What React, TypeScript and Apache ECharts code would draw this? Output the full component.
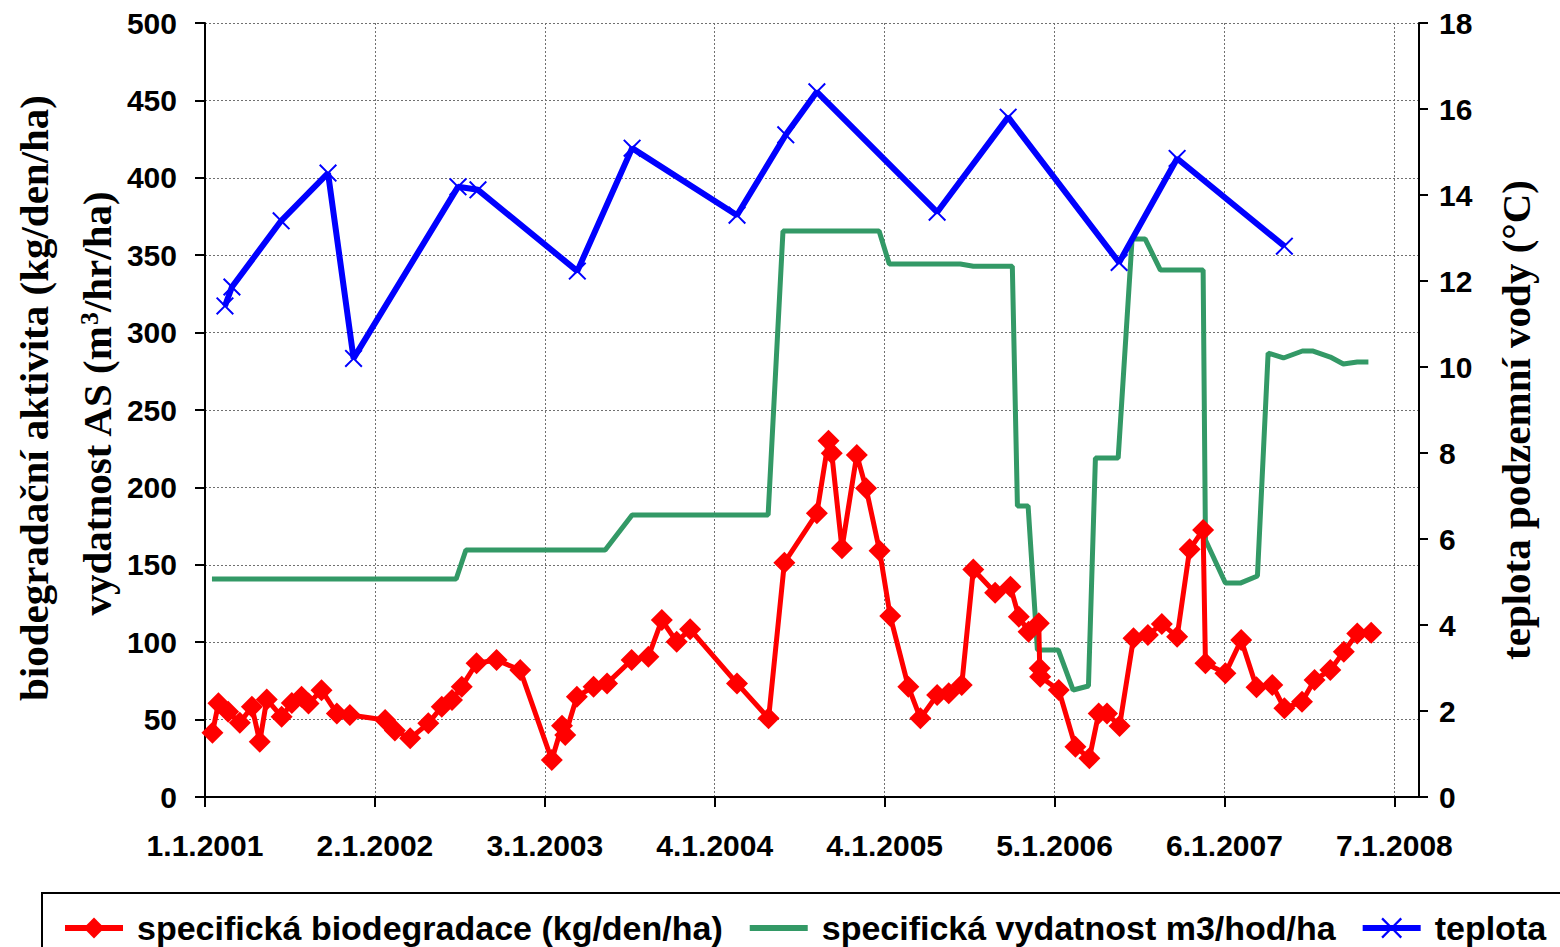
import React, { useEffect, useRef } from "react";
import * as echarts from "echarts";

// ---- data (dates as YYYY-MM-DD) ----
const bioDates = [
  "2001-01-17", "2001-01-30", "2001-02-20", "2001-03-17", "2001-04-12", "2001-04-29", "2001-05-14",
  "2001-06-15", "2001-07-07", "2001-07-28", "2001-08-12", "2001-09-09", "2001-10-12", "2001-11-09",
  "2002-01-24", "2002-02-14", "2002-03-19", "2002-04-27", "2002-05-26", "2002-06-17", "2002-07-08",
  "2002-08-09", "2002-09-21", "2002-11-11", "2003-01-18", "2003-02-09", "2003-02-16", "2003-03-13",
  "2003-04-18", "2003-05-17", "2003-07-09", "2003-08-14", "2003-09-12", "2003-10-14", "2003-11-12",
  "2004-02-21", "2004-04-29", "2004-06-02", "2004-08-11", "2004-09-05", "2004-09-12", "2004-10-04",
  "2004-11-05", "2004-11-25", "2004-12-24", "2005-01-16", "2005-02-24", "2005-03-22", "2005-04-27",
  "2005-05-22", "2005-06-19", "2005-07-14", "2005-08-30", "2005-10-02", "2005-10-20", "2005-11-10",
  "2005-12-02", "2005-12-04", "2005-12-05", "2006-01-14", "2006-02-19", "2006-03-21", "2006-04-10",
  "2006-04-28", "2006-05-25", "2006-06-24", "2006-07-25", "2006-08-24", "2006-09-26", "2006-10-23",
  "2006-11-21", "2006-11-26", "2007-01-08", "2007-02-11", "2007-03-16", "2007-04-19", "2007-05-15",
  "2007-06-22", "2007-07-19", "2007-08-22", "2007-09-20", "2007-10-19", "2007-11-18",
];
const bioValues = [
  41.5, 60.5, 55, 48, 58.3, 35.7, 63,
  51.9, 60.7, 64.8, 60.4, 69, 54, 53,
  49.7, 43, 37.9, 47.6, 58.3, 62.7, 71.3,
  86.4, 88.5, 82, 23.9, 46, 40, 64.8,
  71.3, 73.4, 88.5, 90.6, 114.3, 100.3, 108.3,
  73.4, 50.8, 151.4, 183.3, 230.2, 222, 160.7,
  221, 199.4, 159.1, 116.9, 71.3, 50.8, 65.9,
  67, 72.3, 147, 132, 135.9, 116.5, 106.8,
  112.2, 83.1, 77.7, 69.1, 32.5, 25, 54,
  54, 45.9, 102.5, 104.7, 111.8, 103.6, 160,
  172.5, 86.4, 79.9, 101.4, 70.9, 72.4, 57.3,
  61.6, 75.6, 82, 93.9, 105.7, 106.1,
];

const flowDates = [
  "2001-01-16", "2002-06-26", "2002-07-17", "2003-05-13", "2003-07-10", "2004-04-28", "2004-05-30",
  "2004-12-23", "2005-01-14", "2005-06-16", "2005-07-14", "2005-10-06", "2005-10-17", "2005-11-09",
  "2005-11-29", "2006-01-13", "2006-02-14", "2006-03-19", "2006-04-03", "2006-05-22", "2006-06-21",
  "2006-07-19", "2006-08-21", "2006-11-21", "2006-11-26", "2007-01-08", "2007-02-09", "2007-03-18",
  "2007-04-10", "2007-05-13", "2007-06-23", "2007-07-16", "2007-08-22", "2007-09-19", "2007-10-19",
  "2007-11-12",
];
const flowValues = [
  140.8, 140.8, 159.6, 159.6, 182.2, 182.2, 365.6,
  365.6, 344.3, 344.3, 342.9, 342.9, 188, 188,
  95, 95, 69.1, 71.7, 219, 219, 360.5,
  360.5, 340.4, 340.4, 166, 138.2, 138.2, 142.8,
  286.8, 283.6, 288.1, 288.1, 284.2, 279.7, 281,
  281,
];

const tempDates = [
  "2001-02-13", "2001-02-28", "2001-06-14", "2001-09-23", "2001-11-17", "2002-06-30", "2002-08-12",
  "2003-03-14", "2003-07-10", "2004-02-21", "2004-06-05", "2004-08-11", "2005-04-27", "2005-09-27",
  "2006-05-24", "2006-09-26", "2007-05-15",
];
const tempValues = [
  11.42, 11.86, 13.4, 14.51, 10.2, 14.19, 14.12,
  12.23, 15.09, 13.53, 15.4, 16.4, 13.6, 15.81,
  12.43, 14.85, 12.81,
];

const seriesNames = [
  "specifická biodegradace (kg/den/ha)",
  "specifická vydatnost m3/hod/ha",
  "teplota",
];

const BASE = Date.UTC(2001, 0, 1);
const DAY = 86400000;
const dayOf = (s: string) => {
  const [y, m, d] = s.split("-").map(Number);
  return Math.round((Date.UTC(y, m - 1, d) - BASE) / DAY);
};
const pairs = (dates: string[], vals: number[]) => dates.map((d, i) => [dayOf(d), vals[i]]);
const fmtDate = (v: number) => {
  const d = new Date(BASE + v * DAY);
  return `${d.getUTCDate()}.${d.getUTCMonth() + 1}.${d.getUTCFullYear()}`;
};

const X_PATH =
  "path://M0,1.4 L1.4,0 L9,7.6 L16.6,0 L18,1.4 L10.4,9 L18,16.6 L16.6,18 L9,10.4 L1.4,18 L0,16.6 L7.6,9 Z";

const sans = "'Liberation Sans', Arial, sans-serif";
const serif = "'Liberation Serif', 'Times New Roman', serif";

export default function App() {
  const ref = useRef<HTMLDivElement>(null);
  useEffect(() => {
    document.body.style.margin = "0";
    const chart = echarts.init(ref.current!, undefined, { renderer: "svg" });
    const gridLine = { show: true, lineStyle: { color: "#707070", width: 1, type: [2, 2] as any } };
    const labelStyle = { fontFamily: sans, fontWeight: "bold" as const, fontSize: 30, color: "#000" };
    chart.setOption({
      animation: false,
      backgroundColor: "#fff",
      grid: { left: 205, right: 141, top: 23, bottom: 150 },
      xAxis: {
        type: "value",
        min: 0,
        max: 2615,
        interval: 366,
        axisLine: { show: true, lineStyle: { color: "#000", width: 2 } },
        axisTick: { show: true, length: 10, lineStyle: { color: "#000", width: 2 } },
        axisLabel: { ...labelStyle, margin: 33, showMaxLabel: false, formatter: (v: number) => fmtDate(v) },
        splitLine: gridLine,
      },
      yAxis: [
        {
          type: "value",
          min: 0,
          max: 500,
          interval: 50,
          axisLine: { show: true, lineStyle: { color: "#000", width: 2 } },
          axisTick: { show: true, length: 10, lineStyle: { color: "#000", width: 2 } },
          axisLabel: { ...labelStyle, margin: 28 },
          splitLine: gridLine,
        },
        {
          type: "value",
          min: 0,
          max: 18,
          interval: 2,
          position: "right",
          axisLine: { show: true, lineStyle: { color: "#000", width: 2 } },
          axisTick: { show: true, length: 9, lineStyle: { color: "#000", width: 2 } },
          axisLabel: { ...labelStyle, margin: 20 },
          splitLine: { show: false },
        },
      ],
      legend: {
        left: 42,
        top: 893,
        width: 2000,
        padding: [18, 20, 30, 20],
        itemGap: 24,
        itemWidth: 58,
        itemHeight: 26,
        borderColor: "#000",
        borderWidth: 2,
        lineStyle: { width: 6 },
        textStyle: { fontFamily: sans, fontWeight: "bold", fontSize: 34, color: "#000", padding: [0, 0, 0, 9] },
        data: [
          { name: seriesNames[0] },
          { name: seriesNames[1], itemStyle: { opacity: 0 } },
          { name: seriesNames[2] },
        ],
      },
      graphic: [
        {
          type: "text",
          x: 34,
          y: 398,
          rotation: Math.PI / 2,
          style: {
            text: "biodegradační aktivita (kg/den/ha)",
            font: `bold 41px ${serif}`,
            fill: "#000",
            textAlign: "center",
            textVerticalAlign: "middle",
          },
        },
        {
          type: "text",
          x: 97,
          y: 404,
          rotation: Math.PI / 2,
          style: {
            text: "vydatnost AS (m{sup|3}/hr/ha)",
            font: `bold 41px ${serif}`,
            fill: "#000",
            textAlign: "center",
            textVerticalAlign: "middle",
            rich: {
              sup: { font: `bold 26px ${serif}`, fill: "#000", verticalAlign: "top", padding: [0, 0, 14, 0] },
            },
          },
        },
        {
          type: "text",
          x: 1516,
          y: 420,
          rotation: Math.PI / 2,
          style: {
            text: "teplota podzemní vody (°C)",
            font: `bold 41px ${serif}`,
            fill: "#000",
            textAlign: "center",
            textVerticalAlign: "middle",
          },
        },
      ],
      series: [
        {
          name: seriesNames[1],
          type: "line",
          data: pairs(flowDates, flowValues),
          symbol: "none",
          lineStyle: { color: "#339966", width: 5 },
          itemStyle: { color: "#339966" },
          z: 2,
        },
        {
          name: seriesNames[0],
          type: "line",
          data: pairs(bioDates, bioValues),
          symbol: "diamond",
          symbolSize: 22,
          lineStyle: { color: "#ff0000", width: 5 },
          itemStyle: { color: "#ff0000" },
          z: 3,
        },
        {
          name: seriesNames[2],
          type: "line",
          yAxisIndex: 1,
          data: pairs(tempDates, tempValues),
          symbol: X_PATH,
          symbolSize: 18,
          lineStyle: { color: "#0000ff", width: 6 },
          itemStyle: { color: "#0000ff" },
          z: 4,
        },
      ],
    });
    return () => chart.dispose();
  }, []);
  return <div ref={ref} style={{ position: "fixed", left: 0, top: 0, width: 1560, height: 947 }} />;
}
